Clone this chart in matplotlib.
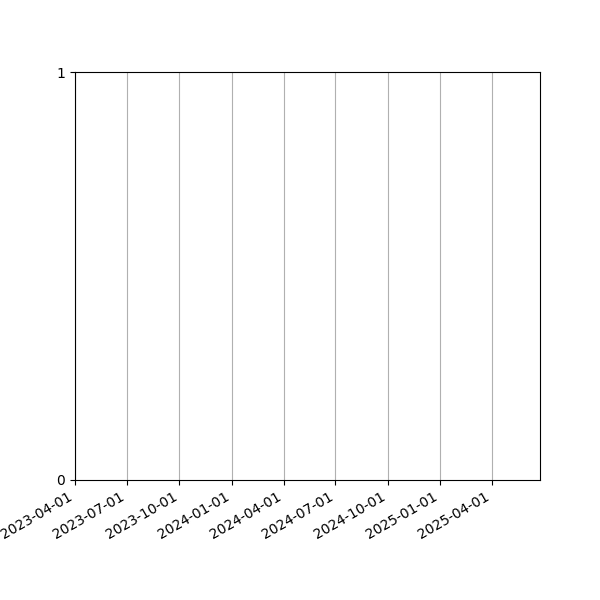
import datetime as dt
import matplotlib
matplotlib.use("Agg")
import matplotlib.pyplot as plt
import matplotlib.dates as mdates

# x range of the (empty) time axis
start_date = dt.date(2023, 4, 1)
end_date = dt.date(2025, 6, 25)
y_ticks = [0, 1]

fig, ax = plt.subplots(figsize=(6, 6), dpi=100)
ax.set_xlim(start_date, end_date)
ax.set_ylim(y_ticks[0], y_ticks[-1])
ax.set_yticks(y_ticks)

ax.xaxis.set_major_locator(mdates.MonthLocator(bymonth=[1, 4, 7, 10]))
ax.xaxis.set_major_formatter(mdates.DateFormatter('%Y-%m-%d'))
ax.grid(True, axis='x')

fig.autofmt_xdate()
fig.savefig("out.png")
